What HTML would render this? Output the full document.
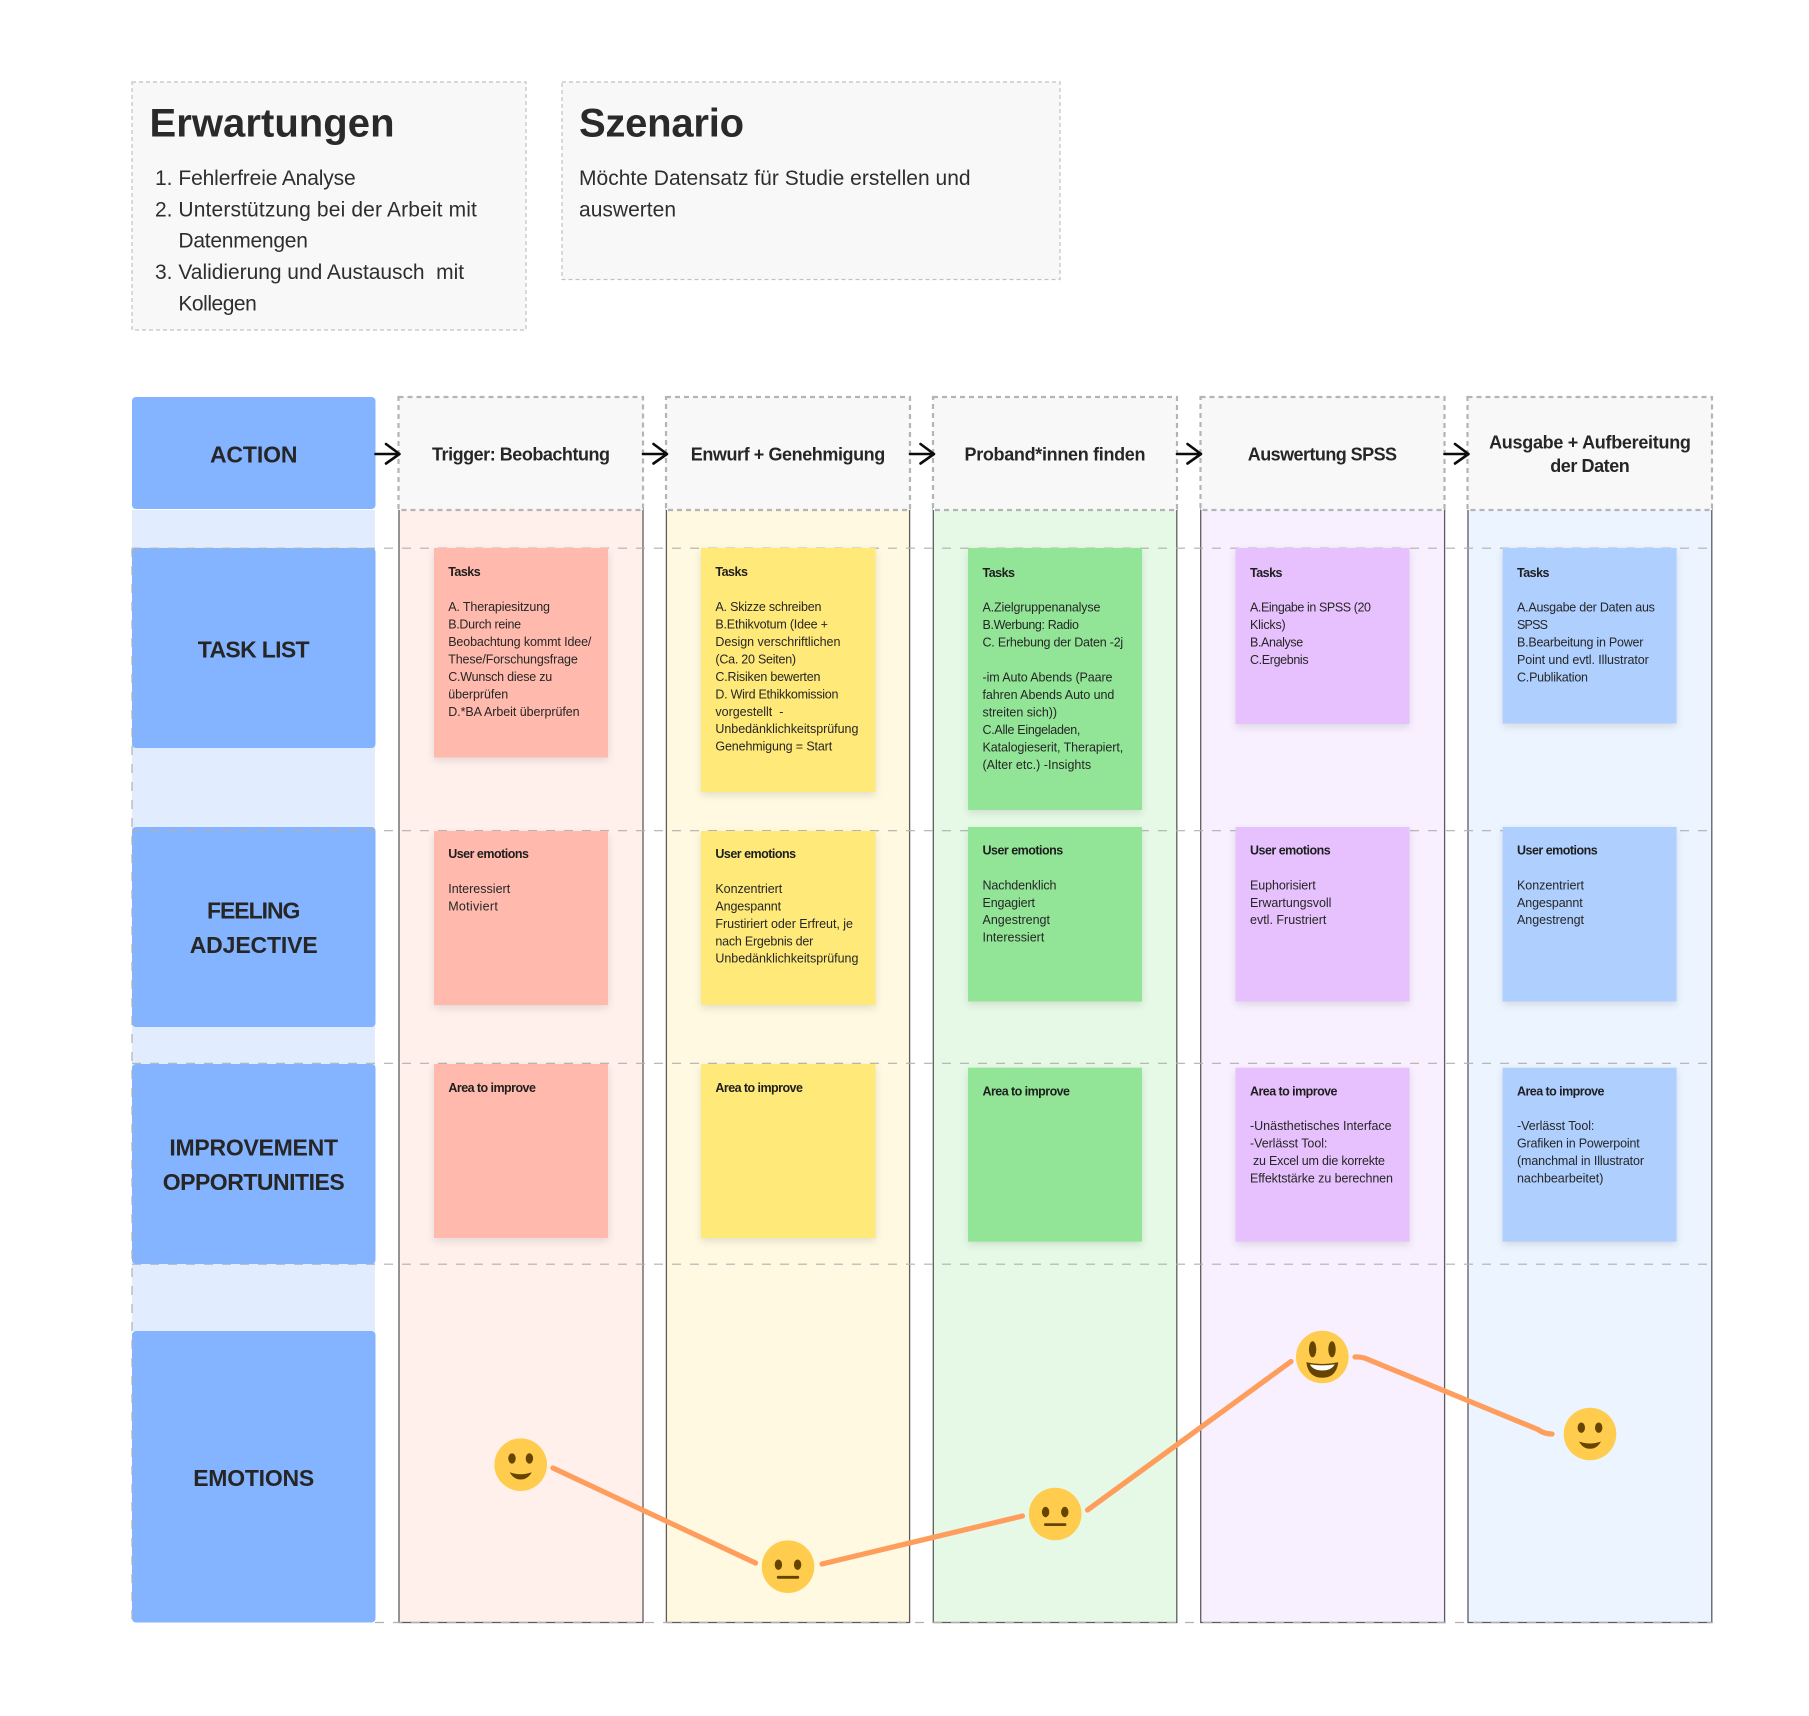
<!DOCTYPE html>
<html lang="de">
<head>
<meta charset="utf-8">
<title>User Journey Map</title>
<style>
html,body{margin:0;padding:0;background:#fff;width:1809px;height:1716px;overflow:hidden}
svg{display:block}
text{font-family:"Liberation Sans",Arial,sans-serif;fill:#222}
.h{font-size:40px;font-weight:700;fill:#2a2a2a}
.b{font-size:21px;fill:#2e2e2e}
.l{font-size:23px;font-weight:700;fill:#262626;text-anchor:middle}
.c{font-size:18px;font-weight:700;fill:#262626;text-anchor:middle}
.t{font-size:12.5px;fill:#262626}
.tb{font-size:12.5px;font-weight:700;fill:#1e1e1e}
.s{filter:drop-shadow(0 3px 4px rgba(0,0,0,.11))}
.sp{fill:#FFBAAD}.sy{fill:#FFE978}.sg{fill:#92E597}.sv{fill:#E6C1FD}.sb{fill:#AFCFFF}
.col{stroke:#5c5c5c;stroke-width:1.3}
.hd{fill:#F8F8F8;stroke:#b4b4b4;stroke-width:2.2;stroke-dasharray:5 4}
.lab{fill:#84B4FF}
.dash{stroke:#b0b0b0;stroke-width:1.2;stroke-dasharray:9 9;fill:none}
.arr{stroke:#0c0c0c;stroke-width:2.6;fill:none;stroke-linecap:round;stroke-linejoin:round}
.emo{stroke:#FF9D5C;stroke-width:5.2;fill:none;stroke-linecap:round;stroke-linejoin:round}
</style>
</head>
<body>
<svg xmlns="http://www.w3.org/2000/svg" width="1809" height="1716" viewBox="0 0 1809 1716">
<rect width="1809" height="1716" fill="#fff"/>

<!-- top boxes -->
<rect x="132" y="82" width="394" height="248" fill="#F8F8F8" stroke="#c2c2c2" stroke-width="1.2" stroke-dasharray="4 3"/>
<rect x="562" y="82" width="498" height="197.5" fill="#F8F8F8" stroke="#c2c2c2" stroke-width="1.2" stroke-dasharray="4 3"/>
<text class="h" x="149.5" y="136.5" textLength="245">Erwartungen</text>
<text class="h" x="579" y="136.5" textLength="165">Szenario</text>
<text class="b" x="155" y="185">1.</text>
<text class="b" x="178.4" y="185" textLength="177.3">Fehlerfreie Analyse</text>
<text class="b" x="155" y="216.3">2.</text>
<text class="b" x="178.4" y="216.3" textLength="298.5">Unterstützung bei der Arbeit mit</text>
<text class="b" x="178.4" y="247.7" textLength="129.5">Datenmengen</text>
<text class="b" x="155" y="279">3.</text>
<text class="b" x="178.4" y="279" textLength="285.7">Validierung und Austausch &#160;mit</text>
<text class="b" x="178.4" y="310.3" textLength="78.4">Kollegen</text>
<text class="b" x="579" y="185" textLength="391.6">Möchte Datensatz für Studie erstellen und</text>
<text class="b" x="579" y="216.3" textLength="97">auswerten</text>

<!-- left label column -->
<rect x="132" y="510" width="243" height="821" fill="#E1EDFF"/>
<rect class="lab" x="132" y="397" width="243.5" height="112" rx="4"/>
<rect class="lab" x="132" y="548" width="243.5" height="200" rx="4"/>
<rect class="lab" x="132" y="827" width="243.5" height="200" rx="4"/>
<rect class="lab" x="132" y="1064" width="243.5" height="200" rx="4"/>
<rect class="lab" x="132" y="1331" width="243.5" height="291.5" rx="4"/>
<line class="dash" x1="132" y1="548" x2="132" y2="1622"/>

<!-- columns -->
<rect class="col" x="399" y="505" width="244" height="1117.5" fill="#FFF0EC"/>
<rect class="col" x="666.4" y="505" width="243.2" height="1117.5" fill="#FFF9E1"/>
<rect class="col" x="933.3" y="505" width="243.5" height="1117.5" fill="#E6F9E6"/>
<rect class="col" x="1200.7" y="505" width="243.9" height="1117.5" fill="#F8F0FF"/>
<rect class="col" x="1468" y="505" width="243.8" height="1117.5" fill="#ECF4FF"/>

<!-- row dashes -->
<line class="dash" x1="132" y1="548.2" x2="1712" y2="548.2"/>
<line class="dash" x1="132" y1="830.7" x2="1712" y2="830.7"/>
<line class="dash" x1="132" y1="1063.3" x2="1712" y2="1063.3"/>
<line class="dash" x1="132" y1="1264.2" x2="1712" y2="1264.2"/>
<line class="dash" x1="375" y1="1622.5" x2="1712" y2="1622.5"/>

<!-- headers -->
<rect class="hd" x="398.5" y="397" width="244.5" height="113"/>
<rect class="hd" x="666" y="397" width="244" height="113"/>
<rect class="hd" x="933" y="397" width="244" height="113"/>
<rect class="hd" x="1200.5" y="397" width="244" height="113"/>
<rect class="hd" x="1467.5" y="397" width="244.5" height="113"/>

<!-- arrows -->
<path class="arr" d="M375.5 454H399M386 444L399.5 454L386 463.5"/>
<path class="arr" d="M643 454H666.5M653.5 444L667 454L653.5 463.5"/>
<path class="arr" d="M910 454H933.5M920.5 444L934 454L920.5 463.5"/>
<path class="arr" d="M1177 454H1200.5M1187.5 444L1201 454L1187.5 463.5"/>
<path class="arr" d="M1444.5 454H1468M1455 444L1468.5 454L1455 463.5"/>

<!-- labels -->
<text class="l" x="253.7" y="462.7" textLength="87.5">ACTION</text>
<text class="l" x="253.7" y="657.3" textLength="111.8">TASK LIST</text>
<text class="l" x="253.7" y="918.5" textLength="93.5">FEELING</text>
<text class="l" x="253.7" y="953" textLength="128">ADJECTIVE</text>
<text class="l" x="253.7" y="1155.5" textLength="168.7">IMPROVEMENT</text>
<text class="l" x="253.7" y="1190" textLength="182">OPPORTUNITIES</text>
<text class="l" x="253.7" y="1486" textLength="121">EMOTIONS</text>

<text class="c" x="521" y="460.7" textLength="178">Trigger: Beobachtung</text>
<text class="c" x="788" y="460.7" textLength="194.5">Enwurf + Genehmigung</text>
<text class="c" x="1055" y="460.7" textLength="181">Proband*innen finden</text>
<text class="c" x="1322.4" y="460.7" textLength="149.3">Auswertung SPSS</text>
<text class="c" x="1590" y="448.6" textLength="201.8">Ausgabe + Aufbereitung</text>
<text class="c" x="1590" y="472" textLength="79.6">der Daten</text>

<!-- stickies: tasks -->
<rect class="s sp" x="434" y="548" width="174" height="209.5"/>
<rect class="s sy" x="701" y="548" width="174.5" height="244"/>
<rect class="s sg" x="968" y="548" width="174" height="262"/>
<rect class="s sv" x="1235.5" y="548" width="174" height="176"/>
<rect class="s sb" x="1502.6" y="548" width="174" height="175.5"/>
<!-- stickies: emotions -->
<rect class="s sp" x="434" y="831" width="174" height="174"/>
<rect class="s sy" x="701" y="831" width="174.5" height="174"/>
<rect class="s sg" x="968" y="827" width="174" height="174.5"/>
<rect class="s sv" x="1235.5" y="827" width="174" height="174.5"/>
<rect class="s sb" x="1502.6" y="827" width="174" height="174.5"/>
<!-- stickies: improve -->
<rect class="s sp" x="434" y="1064" width="174" height="174"/>
<rect class="s sy" x="701" y="1064" width="174.5" height="174"/>
<rect class="s sg" x="968" y="1067.7" width="174" height="174"/>
<rect class="s sv" x="1235.5" y="1067.7" width="174" height="174"/>
<rect class="s sb" x="1502.6" y="1067.7" width="174" height="174"/>

<!-- col 1 tasks -->
<text class="tb" x="448.2" y="576" textLength="32.5">Tasks</text>
<text class="t" x="448.2" y="611" textLength="101.8">A. Therapiesitzung</text>
<text class="t" x="448.2" y="628.5" textLength="72.9">B.Durch reine</text>
<text class="t" x="448.2" y="646" textLength="143.2">Beobachtung kommt Idee/</text>
<text class="t" x="448.2" y="663.4" textLength="129.6">These/Forschungsfrage</text>
<text class="t" x="448.2" y="680.9" textLength="104">C.Wunsch diese zu</text>
<text class="t" x="448.2" y="698.3" textLength="60">überprüfen</text>
<text class="t" x="448.2" y="715.8" textLength="131.4">D.*BA Arbeit überprüfen</text>
<!-- col 2 tasks -->
<text class="tb" x="715.4" y="576" textLength="32.5">Tasks</text>
<text class="t" x="715.4" y="611" textLength="106">A. Skizze schreiben</text>
<text class="t" x="715.4" y="628.5" textLength="112.5">B.Ethikvotum (Idee +</text>
<text class="t" x="715.4" y="646" textLength="125">Design verschriftlichen</text>
<text class="t" x="715.4" y="663.4" textLength="80.7">(Ca. 20 Seiten)</text>
<text class="t" x="715.4" y="680.9" textLength="105">C.Risiken bewerten</text>
<text class="t" x="715.4" y="698.3" textLength="123">D. Wird Ethikkomission</text>
<text class="t" x="715.4" y="715.8" textLength="68">vorgestellt &#160;-</text>
<text class="t" x="715.4" y="733.2" textLength="143">Unbedänklichkeitsprüfung</text>
<text class="t" x="715.4" y="750.7" textLength="116.8">Genehmigung = Start</text>
<!-- col 3 tasks -->
<text class="tb" x="982.5" y="576.8" textLength="32.5">Tasks</text>
<text class="t" x="982.5" y="611.7" textLength="117.9">A.Zielgruppenanalyse</text>
<text class="t" x="982.5" y="629.2" textLength="96.4">B.Werbung: Radio</text>
<text class="t" x="982.5" y="646.6" textLength="140.7">C. Erhebung der Daten -2j</text>
<text class="t" x="982.5" y="681.5" textLength="130">-im Auto Abends (Paare</text>
<text class="t" x="982.5" y="699" textLength="131.8">fahren Abends Auto und</text>
<text class="t" x="982.5" y="716.4" textLength="74.6">streiten sich))</text>
<text class="t" x="982.5" y="733.9" textLength="97.9">C.Alle Eingeladen,</text>
<text class="t" x="982.5" y="751.3" textLength="140.7">Katalogieserit, Therapiert,</text>
<text class="t" x="982.5" y="768.8" textLength="108.6">(Alter etc.) -Insights</text>
<!-- col 4 tasks -->
<text class="tb" x="1250" y="576.8" textLength="32.5">Tasks</text>
<text class="t" x="1250" y="611.7" textLength="121">A.Eingabe in SPSS (20</text>
<text class="t" x="1250" y="629.2" textLength="35.7">Klicks)</text>
<text class="t" x="1250" y="646.6" textLength="53.2">B.Analyse</text>
<text class="t" x="1250" y="664.1" textLength="58.6">C.Ergebnis</text>
<!-- col 5 tasks -->
<text class="tb" x="1517" y="576.8" textLength="32.5">Tasks</text>
<text class="t" x="1517" y="611.7" textLength="137.9">A.Ausgabe der Daten aus</text>
<text class="t" x="1517" y="629.2" textLength="31">SPSS</text>
<text class="t" x="1517" y="646.6" textLength="126.4">B.Bearbeitung in Power</text>
<text class="t" x="1517" y="664.1" textLength="131.8">Point und evtl. Illustrator</text>
<text class="t" x="1517" y="681.5" textLength="71">C.Publikation</text>

<!-- emotions text -->
<text class="tb" x="448.2" y="858.2" textLength="80.7">User emotions</text>
<text class="t" x="448.2" y="892.9" textLength="62">Interessiert</text>
<text class="t" x="448.2" y="910.4" textLength="49.6">Motiviert</text>

<text class="tb" x="715.4" y="858.2" textLength="80.7">User emotions</text>
<text class="t" x="715.4" y="892.9" textLength="66.8">Konzentriert</text>
<text class="t" x="715.4" y="910.4" textLength="65.7">Angespannt</text>
<text class="t" x="715.4" y="927.8" textLength="137.5">Frustiriert oder Erfreut, je</text>
<text class="t" x="715.4" y="945.3" textLength="97.9">nach Ergebnis der</text>
<text class="t" x="715.4" y="962.7" textLength="143">Unbedänklichkeitsprüfung</text>

<text class="tb" x="982.5" y="854.6" textLength="80.7">User emotions</text>
<text class="t" x="982.5" y="889.3" textLength="74">Nachdenklich</text>
<text class="t" x="982.5" y="906.8" textLength="52.5">Engagiert</text>
<text class="t" x="982.5" y="924.2" textLength="67.5">Angestrengt</text>
<text class="t" x="982.5" y="941.7" textLength="61.8">Interessiert</text>

<text class="tb" x="1250" y="854.6" textLength="80.7">User emotions</text>
<text class="t" x="1250" y="889.3" textLength="65.7">Euphorisiert</text>
<text class="t" x="1250" y="906.8" textLength="81.4">Erwartungsvoll</text>
<text class="t" x="1250" y="924.2" textLength="76.4">evtl. Frustriert</text>

<text class="tb" x="1517" y="854.6" textLength="80.7">User emotions</text>
<text class="t" x="1517" y="889.3" textLength="67">Konzentriert</text>
<text class="t" x="1517" y="906.8" textLength="65.7">Angespannt</text>
<text class="t" x="1517" y="924.2" textLength="67">Angestrengt</text>

<!-- improve text -->
<text class="tb" x="448.4" y="1091.8" textLength="87.5">Area to improve</text>
<text class="tb" x="715.4" y="1091.8" textLength="87.5">Area to improve</text>
<text class="tb" x="982.5" y="1095.4" textLength="87.5">Area to improve</text>
<text class="tb" x="1250" y="1095.4" textLength="87.5">Area to improve</text>
<text class="t" x="1250" y="1130" textLength="141.6">-Unästhetisches Interface</text>
<text class="t" x="1250" y="1147.5" textLength="77.4">-Verlässt Tool:</text>
<text class="t" x="1253" y="1164.9" textLength="132">zu Excel um die korrekte</text>
<text class="t" x="1250" y="1182.4" textLength="143">Effektstärke zu berechnen</text>
<text class="tb" x="1517" y="1095.4" textLength="87.5">Area to improve</text>
<text class="t" x="1517" y="1130" textLength="77.4">-Verlässt Tool:</text>
<text class="t" x="1517" y="1147.5" textLength="122.7">Grafiken in Powerpoint</text>
<text class="t" x="1517" y="1164.9" textLength="127">(manchmal in Illustrator</text>
<text class="t" x="1517" y="1182.4" textLength="86.4">nachbearbeitet)</text>

<!-- emotion curve -->
<path class="emo" d="M553 1468L755.5 1563"/>
<path class="emo" d="M822 1564L1022.5 1516"/>
<path class="emo" d="M1087.5 1510L1291 1361.5"/>
<path class="emo" d="M1355 1357Q1361 1356.5 1367 1359L1538 1429.5Q1544 1434 1552 1434"/>

<!-- emoji 1 slight smile -->
<g transform="translate(520.7 1464.7)">
<circle r="26.3" fill="#FFCC4D"/>
<ellipse cx="-8.7" cy="-6.3" rx="3.7" ry="5.2" fill="#664500"/>
<ellipse cx="8.7" cy="-6.3" rx="3.7" ry="5.2" fill="#664500"/>
<path d="M-11 7.5Q0 11.5 11 7.5Q7 14.8 0 14.8Q-7 14.8 -11 7.5Z" fill="#664500"/>
</g>
<!-- emoji 2 neutral -->
<g transform="translate(788 1566.7)">
<circle r="26.3" fill="#FFCC4D"/>
<ellipse cx="-9.6" cy="-2" rx="3.7" ry="5.2" fill="#664500"/>
<ellipse cx="9.6" cy="-2" rx="3.7" ry="5.2" fill="#664500"/>
<rect x="-11.2" y="9.2" width="22.4" height="2.8" rx="1.2" fill="#664500"/>
</g>
<!-- emoji 3 neutral -->
<g transform="translate(1055.2 1514)">
<circle r="26.3" fill="#FFCC4D"/>
<ellipse cx="-9.6" cy="-2" rx="3.7" ry="5.2" fill="#664500"/>
<ellipse cx="9.6" cy="-2" rx="3.7" ry="5.2" fill="#664500"/>
<rect x="-11.2" y="9.2" width="22.4" height="2.8" rx="1.2" fill="#664500"/>
</g>
<!-- emoji 4 grin -->
<g transform="translate(1322.3 1357)">
<circle r="26.3" fill="#FFCC4D"/>
<ellipse cx="-9.7" cy="-7.7" rx="3.7" ry="8" fill="#664500"/>
<ellipse cx="9.7" cy="-7.7" rx="3.7" ry="8" fill="#664500"/>
<path d="M-16 5.3Q0 8.7 16 5.3Q14 20.8 0 20.8Q-14 20.8 -16 5.3Z" fill="#664500"/>
<path d="M-12.5 7.4Q0 9.4 12.5 7.4Q9 13.5 0 13.5Q-9 13.5 -12.5 7.4Z" fill="#fff"/>
</g>
<!-- emoji 5 slight smile -->
<g transform="translate(1590 1434)">
<circle r="26.3" fill="#FFCC4D"/>
<ellipse cx="-8.7" cy="-6.3" rx="3.7" ry="5.2" fill="#664500"/>
<ellipse cx="8.7" cy="-6.3" rx="3.7" ry="5.2" fill="#664500"/>
<path d="M-11 7.5Q0 11.5 11 7.5Q7 14.8 0 14.8Q-7 14.8 -11 7.5Z" fill="#664500"/>
</g>
</svg>
</body>
</html>
